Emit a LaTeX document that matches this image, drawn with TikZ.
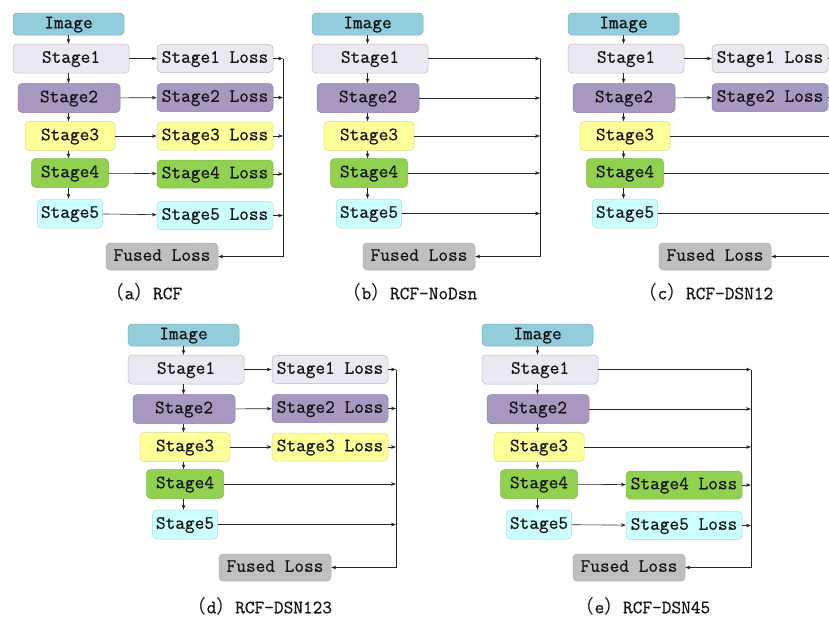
\documentclass[tikz,border=0pt]{standalone}
\usepackage{fontspec}
\newfontfamily\cjkfont{Noto Sans CJK SC}
\newfontfamily\rcfmono{Latin Modern Mono}[RawFeature={embolden=0.6}]
\usetikzlibrary{arrows.meta}

\definecolor{imgc}{HTML}{92CDDC}
\definecolor{s1c}{HTML}{EBE8F1}
\definecolor{s2c}{HTML}{A798C1}
\definecolor{s3c}{HTML}{FFFF99}
\definecolor{s4c}{HTML}{92D050}
\definecolor{s5c}{HTML}{CCFFFF}
\definecolor{fusedc}{HTML}{BFBFBF}

\newcommand\rcfboxfont{\rcfmono\fontsize{18.8}{20}\selectfont}

\tikzset{
  box/.style={rounded corners=4pt, inner sep=0pt, line width=0.5pt,
    font=\rcfboxfont, text=black!92, text height=12pt, text depth=3.5pt,
    minimum height=29pt},
  col0/.style={fill=imgc, draw=imgc!85!black},
  col1/.style={fill=s1c, draw=s1c!80!black},
  col2/.style={fill=s2c, draw=s2c!85!black},
  col3/.style={fill=s3c, draw=s3c!85!black},
  col4/.style={fill=s4c, draw=s4c!88!black},
  col5/.style={fill=s5c, draw=s5c!85!black},
  colf/.style={fill=fusedc, draw=fusedc!90!black},
  lossbox/.style={box, minimum width=116pt, minimum height=28pt},
  arr/.style={-{Stealth[length=5pt,width=3.6pt]}, line width=0.6pt, draw=black!85},
  bus/.style={line width=0.6pt, draw=black!85},
  caption/.style={font=\rcfboxfont, text=black!92, inner sep=0pt,
    text height=12pt, text depth=3.5pt}
}

% The backbone column of one variant: image, five stages and the fused loss.
% #1 name prefix, #2/#3 panel origin, #4 fused-loss centre x, #5 bus x (relative)
\newcommand\rcfcolumn[5]{%
  \begin{scope}[shift={(#2,#3)}]
    \node[box, col0, minimum width=111pt, minimum height=22pt] (#1img) at (55.5,24) {Image};
    \node[box, col1, minimum width=116pt] (#1s1) at (58,58.5) {Stage1};
    \node[box, col2, minimum width=102pt] (#1s2) at (56,98) {Stage2};
    \node[box, col3, minimum width=90pt]  (#1s3) at (57,136) {Stage3};
    \node[box, col4, minimum width=77pt]  (#1s4) at (57,173) {Stage4};
    \node[box, col5, minimum width=65pt]  (#1s5) at (57,213.5) {Stage5};
    \node[box, colf, minimum width=112pt, minimum height=27pt] (#1f) at (#4,256.5) {Fused Loss};
    \coordinate (#1bt) at (#5,58.5);
    \coordinate (#1bb) at (#5,256.5);
  \end{scope}
  \draw[arr] (#1img.south) -- (#1img.south |- #1s1.north);
  \draw[arr] (#1s1.south -| #1img.south) -- (#1s2.north -| #1img.south);
  \draw[arr] (#1s2.south -| #1img.south) -- (#1s3.north -| #1img.south);
  \draw[arr] (#1s3.south -| #1img.south) -- (#1s4.north -| #1img.south);
  \draw[arr] (#1s4.south -| #1img.south) -- (#1s5.north -| #1img.south);
  \draw[bus] (#1bt) -- (#1bb);
  \draw[arr] (#1bb) -- (#1f);
}

\begin{document}
\begin{tikzpicture}[x=1pt, y=-1pt]
\clip (0,0) rectangle (829,619);
\fill[white] (0,0) rectangle (829,619);

% ---------------- (a) RCF: deep supervision on every stage
\rcfcolumn{a}{13}{0}{149}{270}
\begin{scope}[shift={(13,0)}]
  \node[lossbox, col1] (al1) at (202,58.5) {Stage1 Loss};
  \node[lossbox, col2] (al2) at (202,97.5) {Stage2 Loss};
  \node[lossbox, col3] (al3) at (202,136)  {Stage3 Loss};
  \node[lossbox, col4] (al4) at (202,174)  {Stage4 Loss};
  \node[lossbox, col5] (al5) at (202,215.5) {Stage5 Loss};
\end{scope}
\foreach \i in {1,...,5} {
  \draw[arr] (as\i) -- (al\i);
  \draw[arr] (al\i.east) -- (al\i.east -| abt);
}
\node[caption] (acap) at (144,295) {{\cjkfont （}a{\cjkfont ）}RCF};

% ---------------- (b) RCF-NoDsn: no side losses
\rcfcolumn{b}{312}{0}{107}{228}
\foreach \i in {1,...,5} {
  \draw[arr] (bs\i.east) -- (bs\i.east -| bbt);
}
\node[caption] (bcap) at (410,295) {{\cjkfont （}b{\cjkfont ）}RCF-NoDsn};

% ---------------- (c) RCF-DSN12: side losses on stages 1 and 2
\rcfcolumn{c}{568}{0}{147}{270}
\begin{scope}[shift={(568,0)}]
  \node[lossbox, col1] (cl1) at (202,58.5) {Stage1 Loss};
  \node[lossbox, col2] (cl2) at (202,97.5) {Stage2 Loss};
\end{scope}
\foreach \i in {1,2} {
  \draw[arr] (cs\i) -- (cl\i);
  \draw[arr] (cl\i.east) -- (cl\i.east -| cbt);
}
\foreach \i in {3,4,5} {
  \draw[arr] (cs\i.east) -- (cs\i.east -| cbt);
}
\node[caption] (ccap) at (706,295) {{\cjkfont （}c{\cjkfont ）}RCF-DSN12};

% ---------------- (d) RCF-DSN123: side losses on stages 1 to 3
\rcfcolumn{d}{128}{311}{147}{268}
\begin{scope}[shift={(128,311)}]
  \node[lossbox, col1] (dl1) at (202,58.5) {Stage1 Loss};
  \node[lossbox, col2] (dl2) at (202,97.5) {Stage2 Loss};
  \node[lossbox, col3] (dl3) at (202,136)  {Stage3 Loss};
\end{scope}
\foreach \i in {1,2,3} {
  \draw[arr] (ds\i) -- (dl\i);
  \draw[arr] (dl\i.east) -- (dl\i.east -| dbt);
}
\foreach \i in {4,5} {
  \draw[arr] (ds\i.east) -- (ds\i.east -| dbt);
}
\node[caption] (dcap) at (260,609) {{\cjkfont （}d{\cjkfont ）}RCF-DSN123};

% ---------------- (e) RCF-DSN45: side losses on stages 4 and 5
\rcfcolumn{e}{482}{311}{147}{269}
\begin{scope}[shift={(482,311)}]
  \node[lossbox, col4] (el4) at (202,174)  {Stage4 Loss};
  \node[lossbox, col5] (el5) at (202,214.5) {Stage5 Loss};
\end{scope}
\foreach \i in {1,2,3} {
  \draw[arr] (es\i.east) -- (es\i.east -| ebt);
}
\foreach \i in {4,5} {
  \draw[arr] (es\i) -- (el\i);
  \draw[arr] (el\i.east) -- (el\i.east -| ebt);
}
\node[caption] (ecap) at (643,609) {{\cjkfont （}e{\cjkfont ）}RCF-DSN45};
\end{tikzpicture}
\end{document}
